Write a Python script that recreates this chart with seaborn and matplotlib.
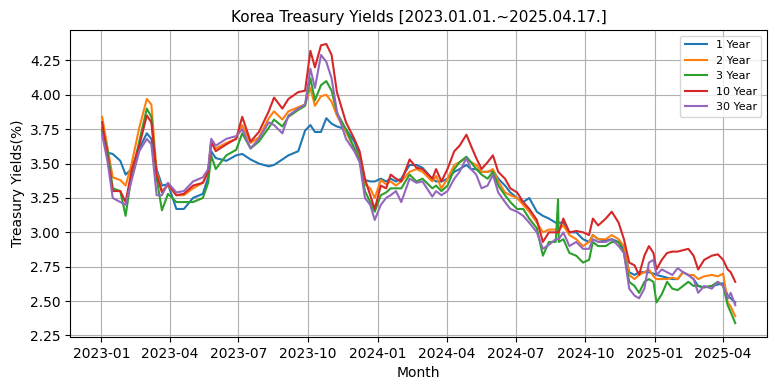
import matplotlib
matplotlib.use("Agg")
import matplotlib.pyplot as plt
import matplotlib.dates as mdates
import seaborn as sns
import pandas as pd

dates = [
    "2023-01-02", "2023-01-09", "2023-01-16", "2023-01-26", "2023-02-02", "2023-02-10",
    "2023-02-20", "2023-03-02", "2023-03-08", "2023-03-15", "2023-03-22", "2023-03-30",
    "2023-04-10", "2023-04-20", "2023-05-02", "2023-05-15", "2023-05-22", "2023-05-26",
    "2023-06-01", "2023-06-15", "2023-06-28", "2023-07-06", "2023-07-17", "2023-07-28",
    "2023-08-10", "2023-08-17", "2023-08-28", "2023-09-05", "2023-09-18", "2023-09-27",
    "2023-10-04", "2023-10-10", "2023-10-18", "2023-10-25", "2023-11-01", "2023-11-08",
    "2023-11-20", "2023-12-01", "2023-12-08", "2023-12-15", "2023-12-22", "2023-12-28",
    "2024-01-05", "2024-01-12", "2024-01-18", "2024-01-25", "2024-02-01", "2024-02-12",
    "2024-02-21", "2024-02-29", "2024-03-13", "2024-03-18", "2024-03-25", "2024-04-02",
    "2024-04-11", "2024-04-18", "2024-04-27", "2024-05-03", "2024-05-10", "2024-05-17",
    "2024-05-25", "2024-06-01", "2024-06-08", "2024-06-17", "2024-06-24", "2024-07-03",
    "2024-07-11", "2024-07-19", "2024-07-29", "2024-08-06", "2024-08-14", "2024-08-23",
    "2024-08-26", "2024-08-27", "2024-09-02", "2024-09-10", "2024-09-19", "2024-09-28",
    "2024-10-06", "2024-10-11", "2024-10-18", "2024-10-28", "2024-11-05", "2024-11-14",
    "2024-11-21", "2024-11-28", "2024-12-05", "2024-12-11", "2024-12-18", "2024-12-24",
    "2024-12-30", "2025-01-03", "2025-01-10", "2025-01-17", "2025-01-24", "2025-01-31",
    "2025-02-07", "2025-02-14", "2025-02-21", "2025-02-27", "2025-03-07", "2025-03-17",
    "2025-03-25", "2025-04-01", "2025-04-07", "2025-04-11", "2025-04-17",
]

y1 = [3.74, 3.58, 3.57, 3.52, 3.42, 3.46, 3.61, 3.72, 3.68, 3.46, 3.34, 3.35,
      3.17, 3.17, 3.25, 3.28, 3.40, 3.59, 3.54, 3.52, 3.56, 3.57, 3.53, 3.50,
      3.48, 3.49, 3.53, 3.56, 3.59, 3.74, 3.78, 3.73, 3.73, 3.83, 3.79, 3.77,
      3.75, 3.66, 3.56, 3.38, 3.37, 3.37, 3.39, 3.37, 3.39, 3.37, 3.39, 3.49,
      3.49, 3.47, 3.39, 3.37, 3.37, 3.39, 3.44, 3.46, 3.49, 3.46, 3.46, 3.44,
      3.44, 3.45, 3.39, 3.34, 3.29, 3.25, 3.22, 3.25, 3.15, 3.12, 3.10, 3.07,
      3.07, 3.07, 3.07, 3.00, 3.00, 2.95, 2.93, 2.98, 2.95, 2.94, 2.95, 2.93,
      2.88, 2.71, 2.69, 2.71, 2.71, 2.71, 2.70, 2.69, 2.68, 2.67, 2.66, 2.66,
      2.71, 2.69, 2.66, 2.61, 2.60, 2.61, 2.62, 2.63, 2.54, 2.52, 2.49]

y2 = [3.84, 3.62, 3.40, 3.38, 3.34, 3.50, 3.76, 3.97, 3.93, 3.44, 3.30, 3.34,
      3.27, 3.27, 3.32, 3.36, 3.44, 3.65, 3.61, 3.65, 3.68, 3.78, 3.65, 3.69,
      3.83, 3.88, 3.82, 3.88, 3.91, 3.93, 4.05, 3.92, 3.99, 4.00, 3.95, 3.85,
      3.73, 3.61, 3.55, 3.35, 3.32, 3.25, 3.38, 3.35, 3.37, 3.34, 3.37, 3.44,
      3.46, 3.44, 3.37, 3.41, 3.32, 3.39, 3.49, 3.51, 3.54, 3.51, 3.49, 3.44,
      3.44, 3.46, 3.37, 3.29, 3.27, 3.25, 3.20, 3.15, 3.07, 3.00, 3.02, 3.02,
      3.02, 3.02, 3.05, 2.98, 2.95, 2.90, 2.93, 2.98, 2.95, 2.95, 2.98, 2.95,
      2.90, 2.69, 2.66, 2.69, 2.71, 2.73, 2.68, 2.66, 2.66, 2.66, 2.67, 2.66,
      2.71, 2.69, 2.69, 2.66, 2.68, 2.69, 2.68, 2.70, 2.49, 2.46, 2.39]

y3 = [3.76, 3.60, 3.32, 3.30, 3.12, 3.42, 3.66, 3.90, 3.84, 3.39, 3.16, 3.28,
      3.22, 3.22, 3.22, 3.25, 3.36, 3.56, 3.46, 3.56, 3.60, 3.72, 3.61, 3.66,
      3.76, 3.82, 3.77, 3.84, 3.89, 3.92, 4.12, 3.96, 4.07, 4.10, 4.03, 3.87,
      3.75, 3.61, 3.53, 3.30, 3.22, 3.15, 3.27, 3.29, 3.32, 3.32, 3.32, 3.42,
      3.37, 3.39, 3.32, 3.34, 3.30, 3.34, 3.46, 3.51, 3.55, 3.51, 3.46, 3.42,
      3.39, 3.44, 3.34, 3.27, 3.22, 3.17, 3.17, 3.10, 3.03, 2.83, 2.93, 2.93,
      3.24, 2.93, 2.95, 2.85, 2.83, 2.78, 2.80, 2.93, 2.90, 2.90, 2.93, 2.93,
      2.85, 2.64, 2.61, 2.56, 2.64, 2.66, 2.64, 2.49, 2.55, 2.64, 2.59, 2.58,
      2.61, 2.64, 2.61, 2.61, 2.60, 2.61, 2.64, 2.61, 2.47, 2.42, 2.34]

y10 = [3.80, 3.55, 3.30, 3.30, 3.22, 3.45, 3.63, 3.85, 3.80, 3.42, 3.29, 3.35,
       3.27, 3.28, 3.34, 3.36, 3.44, 3.66, 3.59, 3.64, 3.68, 3.84, 3.66, 3.73,
       3.88, 3.98, 3.90, 3.97, 4.02, 4.03, 4.32, 4.20, 4.36, 4.37, 4.29, 4.02,
       3.80, 3.68, 3.59, 3.39, 3.27, 3.17, 3.34, 3.32, 3.42, 3.39, 3.37, 3.53,
       3.47, 3.46, 3.39, 3.46, 3.37, 3.46, 3.59, 3.63, 3.71, 3.63, 3.54, 3.46,
       3.51, 3.56, 3.44, 3.39, 3.32, 3.29, 3.22, 3.17, 3.09, 2.93, 3.00, 3.00,
       3.00, 3.00, 3.10, 3.00, 3.01, 3.00, 2.98, 3.10, 3.05, 3.10, 3.15, 3.07,
       2.95, 2.78, 2.76, 2.69, 2.83, 2.90, 2.85, 2.73, 2.80, 2.85, 2.86, 2.86,
       2.87, 2.88, 2.83, 2.73, 2.80, 2.83, 2.84, 2.80, 2.73, 2.71, 2.64]

y30 = [3.71, 3.52, 3.25, 3.22, 3.20, 3.38, 3.59, 3.68, 3.64, 3.27, 3.27, 3.36,
       3.29, 3.30, 3.37, 3.40, 3.46, 3.68, 3.63, 3.68, 3.70, 3.75, 3.61, 3.68,
       3.80, 3.78, 3.72, 3.85, 3.90, 3.93, 4.19, 4.05, 4.29, 4.24, 4.12, 3.88,
       3.68, 3.59, 3.51, 3.25, 3.20, 3.09, 3.20, 3.25, 3.27, 3.30, 3.22, 3.39,
       3.36, 3.37, 3.26, 3.30, 3.27, 3.30, 3.39, 3.44, 3.54, 3.46, 3.42, 3.32,
       3.34, 3.42, 3.29, 3.22, 3.17, 3.15, 3.12, 3.07, 3.00, 2.88, 2.91, 2.95,
       2.95, 2.95, 3.00, 2.90, 2.93, 2.88, 2.88, 2.95, 2.93, 2.93, 2.95, 2.90,
       2.85, 2.59, 2.54, 2.52, 2.59, 2.78, 2.80, 2.69, 2.73, 2.71, 2.69, 2.74,
       2.71, 2.69, 2.66, 2.56, 2.61, 2.59, 2.64, 2.61, 2.52, 2.56, 2.47]

labels = ["1 Year", "2 Year", "3 Year", "10 Year", "30 Year"]
series = [y1, y2, y3, y10, y30]

x = pd.to_datetime(dates)

fig = plt.figure(figsize=(7.77, 3.91), dpi=100)
ax = fig.add_axes([0.0907, 0.138, 0.987 - 0.0907, 0.9233 - 0.138])
palette = sns.color_palette("tab10")
for i, (lab, ys) in enumerate(zip(labels, series)):
    sns.lineplot(x=x, y=ys, label=lab, ax=ax, color=palette[i], linewidth=1.5)

ax.set_title("Korea Treasury Yields [2023.01.01.~2025.04.17.]", fontsize=11)
ax.set_xlabel("Month", fontsize=10)
ax.set_ylabel("Treasury Yields(%)", fontsize=10)
ax.xaxis.set_major_locator(mdates.MonthLocator(bymonth=[1, 4, 7, 10]))
ax.xaxis.set_major_formatter(mdates.DateFormatter("%Y-%m"))
ax.set_yticks([2.25, 2.5, 2.75, 3.0, 3.25, 3.5, 3.75, 4.0, 4.25])
ax.grid(True, color="#b0b0b0", linewidth=0.8)
ax.legend(loc="upper right", fontsize=8)
fig.savefig("out.png", dpi=100)
